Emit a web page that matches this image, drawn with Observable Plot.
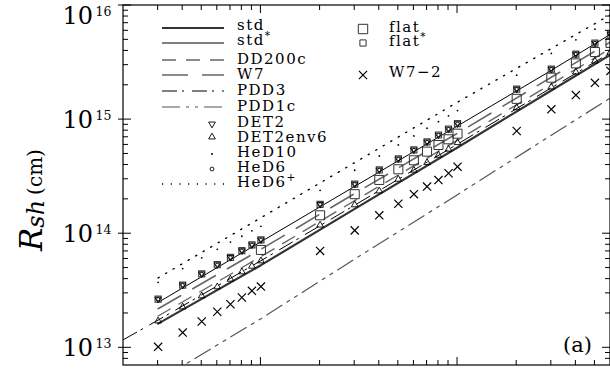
<!DOCTYPE html>
<html><head><meta charset="utf-8">
<script src="https://cdn.jsdelivr.net/npm/d3@7"></script>
<script src="https://cdn.jsdelivr.net/npm/@observablehq/plot@0.6"></script>
<style>html,body{margin:0;padding:0;background:#fff;}</style>
</head><body><div id="chart"></div>
<script>
// ---- data (time in days, shock radius in cm) ----
const markerTimes = [3,4,5,6,7,8,9,10,20,30,40,50,60,70,80,90,100,200,300,400,500,600];
const flatTimes = [10,20,30,40,50,60,70,80,90,100,200,300,400,500,600];
const det2 = [2.67e13,3.55e13,4.45e13,5.35e13,6.2e13,7.1e13,8.0e13,8.85e13,1.81e14,2.72e14,3.62e14,4.52e14,5.42e14,6.37e14,7.33e14,8.27e14,9.21e14,1.85e15,2.77e15,3.75e15,4.69e15,5.6e15];
const heD6 = [2.67e13,3.55e13,4.45e13,5.35e13,6.2e13,7.1e13,8.0e13,8.85e13,1.81e14,2.72e14,3.62e14,4.52e14,5.42e14,6.37e14,7.33e14,8.27e14,9.21e14,1.85e15,2.77e15,3.75e15,4.69e15,5.6e15];
const flatStar = [2.67e13,3.55e13,4.45e13,5.35e13,6.2e13,7.1e13,8.0e13,8.85e13,1.81e14,2.72e14,3.62e14,4.52e14,5.42e14,6.37e14,7.33e14,8.27e14,9.21e14,1.85e15,2.77e15,3.75e15,4.69e15,5.6e15];
const det2env6 = [1.72e13,2.28e13,2.85e13,3.42e13,3.99e13,4.63e13,5.19e13,5.78e13,1.19e14,1.79e14,2.37e14,3.0e14,3.6e14,4.2e14,4.87e14,5.5e14,6.28e14,1.27e15,1.93e15,2.61e15,3.26e15,3.9e15];
const heD10 = [3.75e13,4.95e13,6.15e13,7.3e13,8.45e13,9.5e13,1.06e14,1.16e14,2.4e14,3.6e14,4.8e14,6.0e14,7.2e14,8.4e14,9.6e14,1.08e15,1.2e15,2.45e15,3.8e15,5.0e15,6.2e15,7.4e15];
const w72 = [1.02e13,1.36e13,1.70e13,2.07e13,2.41e13,2.76e13,3.16e13,3.44e13,7.07e13,1.07e14,1.45e14,1.83e14,2.22e14,2.59e14,2.95e14,3.39e14,3.87e14,7.94e14,1.23e15,1.64e15,2.10e15,2.67e15];
const flat = [7.21e13,1.45e14,2.22e14,2.96e14,3.67e14,4.40e14,5.24e14,5.99e14,6.72e14,7.53e14,1.52e15,2.33e15,3.11e15,3.91e15,4.7e15];

const lineTimes = [3,10,30,100,300,600];
const std = [1.63e13,5.3e13,1.65e14,5.7e14,1.8e15,3.7e15];
const stdStar = [2.5e13,8.5e13,2.6e14,8.8e14,2.7e15,5.6e15];
const dd200c = [1.9e13,6.3e13,1.95e14,6.6e14,2.05e15,4.2e15];
const w7 = [2.2e13,7.3e13,2.25e14,7.6e14,2.35e15,4.8e15];
const heD6p = [4.1e13,1.38e14,4.2e14,1.42e15,4.2e15,8.3e15];
const pdd3Times = [2,3,10,30,100,300,600];
const pdd3 = [1.18e13,1.75e13,5.8e13,1.78e14,6.1e14,1.9e15,3.85e15];
const pdd1cTimes = [2,4,10,30,100,300,600];
const pdd1c = [3.3e12,6.95e12,1.8e13,6.0e13,2.2e14,7.3e14,1.55e15];

const yMajorTicks = [1e13,1e14,1e15,1e16];
const yExponents = ["13","14","15","16"];
const yMinorTicks = [8e12,9e12,2e13,3e13,4e13,5e13,6e13,7e13,8e13,9e13,2e14,3e14,4e14,5e14,6e14,7e14,8e14,9e14,2e15,3e15,4e15,5e15,6e15,7e15,8e15,9e15];
const xMajorTicks = [10,100];
const xMinorTicks = [3,4,5,6,7,8,9,20,30,40,50,60,70,80,90,200,300,400,500];

// ---- styles ----
const FONT = "DejaVu Serif";
const S = {
  std:   {stroke:"#333", width:2.2, dash:null},
  stdS:  {stroke:"#000", width:1, dash:null},
  dd:    {stroke:"#666", width:1.4, dash:"14,10"},
  w7:    {stroke:"#666", width:1.6, dash:"26,14"},
  pdd3:  {stroke:"#000", width:1, dash:"15,5,2,8"},
  pdd1c: {stroke:"#555", width:1.2, dash:"18,6,3,6,3,6"},
  hed6p: {stroke:"#000", width:1.4, dash:"1.2,7.5"}
};
const rows = (t, v) => t.map((d, i) => ({t: d, r: v[i]}));
const lineMark = (t, v, s) => Plot.line(rows(t, v), {x:"t", y:"r", stroke:s.stroke, strokeWidth:s.width, strokeDasharray:s.dash, clip:true});

const legendLeft = [
  {label:"std", line:S.std},
  {label:"std", sup:"*", line:S.stdS},
  {label:"DD200c", line:S.dd},
  {label:"W7", line:S.w7},
  {label:"PDD3", line:S.pdd3},
  {label:"PDD1c", line:S.pdd1c},
  {label:"DET2", sym:"tridown"},
  {label:"DET2env6", sym:"triup"},
  {label:"HeD10", sym:"dot"},
  {label:"HeD6", sym:"circle"},
  {label:"HeD6", sup:"+", line:S.hed6p}
];
const legendLeftRowY = [28,43,60,75,91,107,124,137,154,169,184];
const legendLeftTextY = [30,45,64,79,95,111,127,142,157,172,187];
const legendRight = [
  {label:"flat", sym:"bigsq", y:29, ty:32},
  {label:"flat", sup:"*", sym:"smallsq", y:43, ty:46},
  {label:"W7\u22122", sym:"times", y:75, ty:77}
];

function symPath(kind) {
  const pi = Math.PI;
  if (kind === "tridown" || kind === "triup") return d3.symbol(d3.symbolTriangle, pi*2.5*2.5)();
  if (kind === "circle") return d3.symbol(d3.symbolCircle, pi*1.9*1.9)();
  if (kind === "bigsq") return d3.symbol(d3.symbolSquare, pi*5.3*5.3)();
  if (kind === "smallsq") return d3.symbol(d3.symbolSquare, pi*3.5*3.5)();
  if (kind === "times") return d3.symbol(d3.symbolTimes, pi*3.8*3.8)();
  return null;
}

function txt(g, x, y, size, anchor) {
  return g.append("text").attr("x", x).attr("y", y).attr("fill", "#000").attr("stroke", "none")
    .attr("font-family", FONT).attr("font-size", size).attr("text-anchor", anchor || "start");
}

function addLabel(g, x, y, item, size) {
  const t = txt(g, x, y, size, "start").attr("letter-spacing", 1.5).text(item.label);
  if (item.sup) t.append("tspan").attr("dy", -6).attr("font-size", size * 0.7).text(item.sup);
}

function decor(index, scales, values, dimensions) {
  const x = scales.x, y = scales.y;
  const {width, height, marginLeft, marginTop, marginRight, marginBottom} = dimensions;
  const L = marginLeft, R = width - marginRight, T = marginTop, B = height - marginBottom;
  const g = d3.create("svg:g").attr("fill", "none").attr("stroke", "#000").attr("text-anchor", "start");
  g.append("rect").attr("x", L).attr("y", T).attr("width", R - L).attr("height", B - T).attr("stroke-width", 1.2);
  const seg = (x1, y1, x2, y2) => g.append("line").attr("x1", x1).attr("y1", y1).attr("x2", x2).attr("y2", y2).attr("stroke-width", 1);
  for (const v of yMinorTicks) { const yy = y(v); seg(L, yy, L + 5, yy); seg(R - 5, yy, R, yy); }
  for (const v of yMajorTicks) { const yy = y(v); seg(L - 5, yy, L + 8, yy); seg(R - 8, yy, R, yy); }
  for (const v of xMinorTicks) { const xx = x(v); seg(xx, B, xx, B - 5); seg(xx, T, xx, T + 5); }
  for (const v of xMajorTicks) { const xx = x(v); seg(xx, B, xx, B - 8); seg(xx, T, xx, T + 8); }
  // y tick labels
  yMajorTicks.forEach((v, i) => {
    const yc = Math.max(y(v), 15);
    txt(g, 93, yc + 8.7, 24, "end").text("10");
    txt(g, 95.5, yc + 0.5, 12.5, "start").text(yExponents[i]);
  });
  // y axis title
  const yl = g.append("text").attr("transform", "translate(42,251) rotate(-90)").attr("text-anchor", "start")
    .attr("fill", "#000").attr("stroke", "none").attr("font-family", FONT);
  yl.append("tspan").attr("font-style", "italic").attr("font-size", 31).text("R");
  yl.append("tspan").attr("font-style", "italic").attr("font-size", 24).attr("dy", 2).text("sh");
  yl.append("tspan").attr("font-size", 20).attr("dy", -2).attr("dx", 5).text("(cm)");
  // legend left
  legendLeft.forEach((item, i) => {
    const ry = legendLeftRowY[i];
    if (item.line) {
      g.append("line").attr("x1", 162).attr("x2", 224).attr("y1", ry).attr("y2", ry)
        .attr("stroke", item.line.stroke).attr("stroke-width", item.line.width).attr("stroke-dasharray", item.line.dash);
    } else if (item.sym === "dot") {
      g.append("circle").attr("cx", 212).attr("cy", ry).attr("r", 1).attr("fill", "#000").attr("stroke", "none");
    } else {
      g.append("path").attr("d", symPath(item.sym)).attr("stroke-width", 0.9)
        .attr("transform", `translate(212,${ry})${item.sym === "tridown" ? " rotate(180)" : ""}`);
    }
    addLabel(g, 237, legendLeftTextY[i], item, 15);
  });
  legendRight.forEach(item => {
    g.append("path").attr("d", symPath(item.sym)).attr("stroke-width", item.sym === "times" ? 1.2 : 1)
      .attr("stroke", item.sym === "times" ? "#000" : "#333").attr("transform", `translate(363,${item.y})`);
    addLabel(g, 389, item.ty, item, 15);
  });
  // panel tag
  txt(g, 592, 352, 21, "end").text("(a)");
  return g.node();
}

const plot = Plot.plot({
  width: 610, height: 371,
  marginLeft: 123, marginRight: 0, marginTop: 5, marginBottom: 6,
  x: {type: "log", domain: [2, 600], axis: null},
  y: {type: "log", domain: [7e12, 1e16], axis: null},
  style: {background: "#fff", fontFamily: FONT},
  marks: [
    lineMark(pdd1cTimes, pdd1c, S.pdd1c),
    lineMark(lineTimes, heD6p, S.hed6p),
    lineMark(pdd3Times, pdd3, S.pdd3),
    lineMark(lineTimes, dd200c, S.dd),
    lineMark(lineTimes, w7, S.w7),
    lineMark(lineTimes, std, S.std),
    lineMark(lineTimes, stdStar, S.stdS),
    Plot.dot(rows(markerTimes, heD10), {x:"t", y:"r", r:0.9, fill:"#000", stroke:"none", clip:true}),
    Plot.dot(rows(flatTimes, flat), {x:"t", y:"r", symbol:"square", r:5.1, stroke:"#333", fill:"none", strokeWidth:1}),
    Plot.dot(rows(markerTimes, flatStar), {x:"t", y:"r", symbol:"square", r:3.4, stroke:"#444", fill:"none", strokeWidth:1.2}),
    Plot.dot(rows(markerTimes, det2), {x:"t", y:"r", symbol:"triangle", rotate:180, r:2.4, stroke:"#000", fill:"none", strokeWidth:0.9}),
    Plot.dot(rows(markerTimes, heD6), {x:"t", y:"r", symbol:"circle", r:1.6, stroke:"#000", fill:"none", strokeWidth:0.8}),
    Plot.dot(rows(markerTimes, det2env6), {x:"t", y:"r", symbol:"triangle", r:2.5, stroke:"#000", fill:"none", strokeWidth:0.9}),
    Plot.dot(rows(markerTimes, w72), {x:"t", y:"r", symbol:"times", r:3.8, stroke:"#000", strokeWidth:1.2}),
    decor
  ]
});
document.getElementById("chart").appendChild(plot);
</script>
</body></html>
